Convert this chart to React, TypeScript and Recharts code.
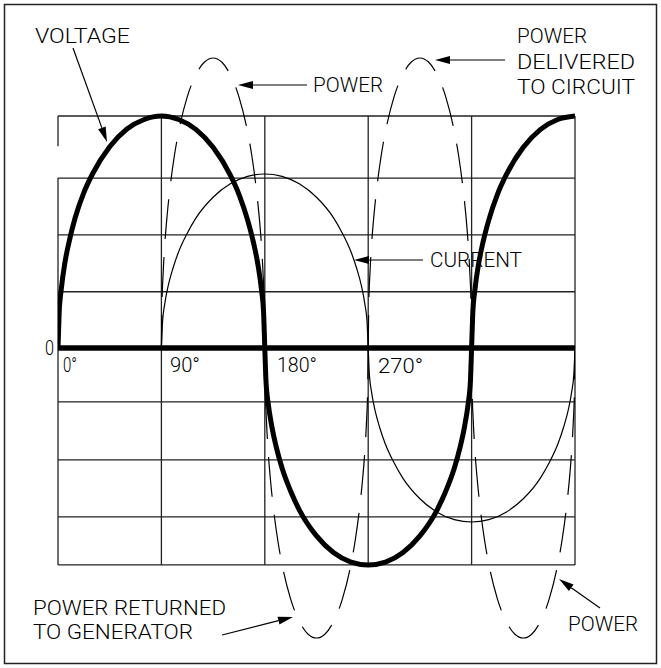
import React from 'react';
import { LineChart, Line, XAxis, YAxis, ReferenceLine } from 'recharts';

const W = 661;
const H = 668;

// Phase angle in degrees (x) and value in grid units (y)
const voltageDeg = [0, 1, 3, 6, 10, 15, 22.5, 30, 45, 60, 75, 90, 105, 120, 135, 150, 157.5, 165, 170, 174, 177, 179, 180,
  181, 183, 186, 190, 195, 202.5, 210, 225, 240, 255, 270, 285, 300, 315, 330, 337.5, 345, 350, 354, 357, 359, 360,
  361, 363, 366, 370, 375, 382.5, 390, 405, 420, 435, 450];
const voltageVal = [0, 0.6, 1.04, 1.47, 1.86, 2.25, 2.68, 3.0, 3.47, 3.775, 3.94, 4, 3.94, 3.77, 3.46, 2.98, 2.65, 2.21, 1.83, 1.44, 1.02, 0.59, 0,
  -0.56, -0.96, -1.34, -1.71, -2.07, -2.47, -2.79, -3.24, -3.53, -3.69, -3.74, -3.69, -3.53, -3.24, -2.79, -2.47, -2.07, -1.71, -1.34, -0.96, -0.56, 0,
  0.59, 1.02, 1.44, 1.83, 2.21, 2.65, 2.98, 3.46, 3.77, 3.94, 4];

const currentDeg = [90, 91, 93, 96, 100, 105, 112.5, 120, 135, 150, 165, 180, 195, 210, 225, 240, 247.5, 255, 260, 264, 267, 269, 270,
  271, 273, 276, 280, 285, 292.5, 300, 315, 330, 345, 360, 375, 390, 405, 420, 427.5, 435, 440, 444, 447, 449, 450];
const currentVal = [0, 0.45, 0.77, 1.08, 1.37, 1.66, 1.98, 2.24, 2.6, 2.83, 2.96, 3, 2.96, 2.83, 2.6, 2.24, 1.98, 1.66, 1.37, 1.08, 0.77, 0.45, 0,
  -0.45, -0.77, -1.08, -1.37, -1.66, -1.98, -2.24, -2.6, -2.83, -2.96, -3, -2.96, -2.83, -2.6, -2.24, -1.98, -1.66, -1.37, -1.08, -0.77, -0.45, 0];

// Power: four dashed lobes (90°–180°, 180°–270°, 270°–360°, 360°–450°)
const powerDeg1 = [90, 90.5, 91.5, 93, 95, 97.5, 101.25, 105, 112.5, 120, 127.5, 135, 142.5, 150, 157.5, 165, 168.75, 172.5, 175, 177, 178.5, 179.5, 180];
const powerDeg2 = [180, 180.5, 181.5, 183, 185, 187.5, 191.25, 195, 202.5, 210, 217.5, 225, 232.5, 240, 247.5, 255, 258.75, 262.5, 265, 267, 268.5, 269.5, 270];
const powerDeg3 = [270, 270.5, 271.5, 273, 275, 277.5, 281.25, 285, 292.5, 300, 307.5, 315, 322.5, 330, 337.5, 345, 348.75, 352.5, 355, 357, 358.5, 359.5, 360];
const powerDeg4 = [360, 360.5, 361.5, 363, 365, 367.5, 371.25, 375, 382.5, 390, 397.5, 405, 412.5, 420, 427.5, 435, 438.75, 442.5, 445, 447, 448.5, 449.5, 450];
const powerValUp = [0, 0.74, 1.28, 1.8, 2.29, 2.76, 3.31, 3.73, 4.33, 4.71, 4.93, 5, 4.93, 4.71, 4.33, 3.73, 3.31, 2.76, 2.29, 1.8, 1.28, 0.74, 0];
const powerValDown = [0, -0.74, -1.28, -1.8, -2.29, -2.76, -3.31, -3.73, -4.33, -4.71, -4.93, -5, -4.93, -4.71, -4.33, -3.73, -3.31, -2.76, -2.29, -1.8, -1.28, -0.74, 0];

// Grid
const gridDeg = [0, 90, 180, 270, 360, 450];
const gridVal = [4, 2.93, 1.95, 0.97, -0.93, -1.93, -2.91, -3.74];
const gridTop = 4;
const gridBottom = -3.74;

const degreeLabels = ['0°', '90°', '180°', '270°'];

const zip = (xs: number[], ys: number[]) => xs.map((x, i) => ({ x, y: ys[i] }));
const voltageData = zip(voltageDeg, voltageVal);
const currentData = zip(currentDeg, currentVal);
const powerLobes = [
  zip(powerDeg1, powerValUp),
  zip(powerDeg2, powerValDown),
  zip(powerDeg3, powerValUp),
  zip(powerDeg4, powerValDown),
];

const FONT = "Roboto, 'DejaVu Sans', sans-serif";

type Txt = { t: string; x: number; y: number; len: number };
const texts: Txt[] = [
  { t: 'VOLTAGE', x: 35, y: 43, len: 95 },
  { t: 'POWER', x: 313, y: 92, len: 70 },
  { t: 'POWER', x: 517, y: 43, len: 70 },
  { t: 'DELIVERED', x: 517, y: 69, len: 118 },
  { t: 'TO CIRCUIT', x: 517, y: 94, len: 118 },
  { t: 'CURRENT', x: 430, y: 267, len: 92 },
  { t: 'POWER RETURNED', x: 33, y: 615, len: 193 },
  { t: 'TO GENERATOR', x: 33, y: 639, len: 160 },
  { t: 'POWER', x: 568, y: 631, len: 70 },
  { t: '0', x: 45, y: 355, len: 9 },
];
const degPos = [
  { x: 63, y: 372, len: 14 },
  { x: 170, y: 372, len: 30 },
  { x: 277, y: 372, len: 40 },
  { x: 378, y: 373, len: 45 },
];

const arrows = [
  [73, 48, 107, 142],
  [307, 85, 238, 85],
  [505, 60, 435, 60],
  [423, 260, 354, 260],
  [222, 635, 293, 617],
  [600, 608, 559, 579],
];

function Arrow({ a }: { a: number[] }) {
  const [x1, y1, x2, y2] = a;
  const dx = x2 - x1;
  const dy = y2 - y1;
  const L = Math.sqrt(dx * dx + dy * dy);
  const ux = dx / L;
  const uy = dy / L;
  const hl = 15;
  const hw = 4;
  const bx = x2 - ux * hl;
  const by = y2 - uy * hl;
  const pts = `${x2},${y2} ${bx - uy * hw},${by + ux * hw} ${bx + uy * hw},${by - ux * hw}`;
  return (
    <g>
      <line x1={x1} y1={y1} x2={bx} y2={by} stroke="#000" strokeWidth={1.2} />
      <polygon points={pts} fill="#000" />
    </g>
  );
}

export default function App() {
  return (
    <div style={{ position: 'absolute', left: 0, top: 0, width: W, height: H, background: '#fff' }}>
      <LineChart width={W} height={H} margin={{ top: 29, right: 86, bottom: 1, left: 58 }}>
        <XAxis type="number" dataKey="x" domain={[0, 450]} hide allowDataOverflow />
        <YAxis type="number" dataKey="y" domain={[-5.5, 5.5]} hide allowDataOverflow />
        {gridVal.map((v) => (
          <ReferenceLine key={'h' + v} segment={[{ x: 0, y: v }, { x: 450, y: v }]} stroke="#222" strokeWidth={1.3} ifOverflow="visible" />
        ))}
        {gridDeg.slice(1).map((d) => (
          <ReferenceLine key={'v' + d} segment={[{ x: d, y: gridTop }, { x: d, y: gridBottom }]} stroke="#222" strokeWidth={1.3} ifOverflow="visible" />
        ))}
        <ReferenceLine segment={[{ x: 0, y: gridTop }, { x: 0, y: 3.48 }]} stroke="#222" strokeWidth={1.3} ifOverflow="visible" />
        <ReferenceLine segment={[{ x: 0, y: 2.93 }, { x: 0, y: gridBottom }]} stroke="#222" strokeWidth={1.3} ifOverflow="visible" />
        {powerLobes.map((d, i) => (
          <Line key={'p' + i} data={d} dataKey="y" type="monotone" stroke="#000" strokeWidth={1.2} strokeDasharray="40 18" strokeDashoffset={7} dot={false} isAnimationActive={false} />
        ))}
        <Line data={currentData} dataKey="y" type="monotone" stroke="#000" strokeWidth={1.2} dot={false} isAnimationActive={false} />
        <Line data={voltageData} dataKey="y" type="monotone" stroke="#000" strokeWidth={5} dot={false} isAnimationActive={false} />
        <ReferenceLine segment={[{ x: 0, y: 0 }, { x: 450, y: 0 }]} stroke="#000" strokeWidth={5.5} ifOverflow="visible" />
      </LineChart>
      <svg width={W} height={H} style={{ position: 'absolute', left: 0, top: 0, pointerEvents: 'none' }}>
        <rect x={4.5} y={4.5} width={652} height={659} fill="none" stroke="#222" strokeWidth={1.5} />
        {texts.map((t, i) => (
          <text key={i} x={t.x} y={t.y} textLength={t.len} lengthAdjust="spacingAndGlyphs" fontFamily={FONT} fontWeight={300} fontSize={20} fill="#000">
            {t.t}
          </text>
        ))}
        {degreeLabels.map((l, i) => (
          <text key={'d' + i} x={degPos[i].x} y={degPos[i].y} textLength={degPos[i].len} lengthAdjust="spacingAndGlyphs" fontFamily={FONT} fontWeight={300} fontSize={20} fill="#000">
            {l}
          </text>
        ))}
        {arrows.map((a, i) => (
          <Arrow key={i} a={a} />
        ))}
      </svg>
    </div>
  );
}
